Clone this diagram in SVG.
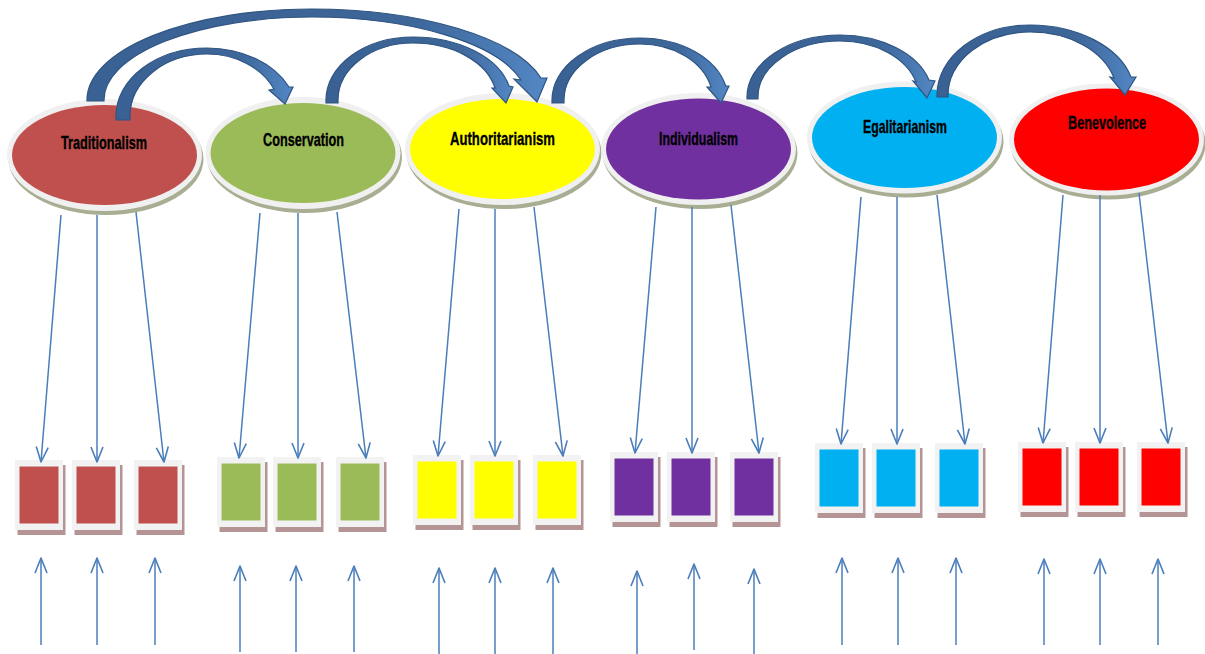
<svg xmlns="http://www.w3.org/2000/svg" width="1205" height="654" viewBox="0 0 1205 654">
<style>
.esh{fill:#a7ae92}
.ering{fill:#f0f0f0}
.lbl{font-family:"Liberation Sans",Arial,sans-serif;font-weight:bold;font-size:19px;fill:#000;stroke:#000;stroke-width:0.35;text-anchor:middle}
.bsh{fill:#b49494}
.bo{fill:#f2f2f2}
.ln{stroke:#4a7ebb;stroke-width:1.5;fill:none}
.ca{fill:url(#cg);stroke:#2f5482;stroke-width:1.2;stroke-linejoin:miter}
</style>
<defs>
<marker id="ah" markerUnits="userSpaceOnUse" viewBox="-17 -8 19 16" refX="0" refY="0" markerWidth="19" markerHeight="16" orient="auto" overflow="visible">
<path d="M-15,-6 L0,0 L-15,6" fill="none" stroke="#4a7ebb" stroke-width="1.6" stroke-linejoin="round"/>
</marker>
<linearGradient id="cg" x1="0" y1="0" x2="1" y2="0">
<stop offset="0" stop-color="#3a6193"/>
<stop offset="0.7" stop-color="#3d6699"/>
<stop offset="1" stop-color="#5387c4"/>
</linearGradient>
</defs>
<rect width="1205" height="654" fill="#fff"/>

<g id="n-traditionalism">
<ellipse class="esh" cx="106" cy="159" rx="97.5" ry="56"/>
<ellipse class="ering" cx="104.5" cy="155" rx="97.5" ry="56"/>
<ellipse cx="104.5" cy="155" rx="92.5" ry="50" fill="#c0504d"/>
<text class="lbl" x="104" y="149" textLength="86" lengthAdjust="spacingAndGlyphs">Traditionalism</text>
</g>
<g id="n-conservation">
<ellipse class="esh" cx="304.5" cy="157" rx="97.5" ry="56"/>
<ellipse class="ering" cx="303" cy="153" rx="97.5" ry="56"/>
<ellipse cx="303" cy="153" rx="92.5" ry="50" fill="#9bbb59"/>
<text class="lbl" x="303.5" y="146" textLength="81" lengthAdjust="spacingAndGlyphs">Conservation</text>
</g>
<g id="n-authoritarianism">
<ellipse class="esh" cx="504" cy="153" rx="97.5" ry="56"/>
<ellipse class="ering" cx="502.5" cy="149" rx="97.5" ry="56"/>
<ellipse cx="502.5" cy="149" rx="92.5" ry="50" fill="#ffff00"/>
<text class="lbl" x="502.5" y="145" textLength="105" lengthAdjust="spacingAndGlyphs">Authoritarianism</text>
</g>
<g id="n-individualism">
<ellipse class="esh" cx="700" cy="153" rx="97.5" ry="56"/>
<ellipse class="ering" cx="698.5" cy="149" rx="97.5" ry="56"/>
<ellipse cx="698.5" cy="149" rx="92.5" ry="50.5" fill="#7030a0"/>
<text class="lbl" x="698.5" y="145" textLength="79" lengthAdjust="spacingAndGlyphs">Individualism</text>
</g>
<g id="n-egalitarianism">
<ellipse class="esh" cx="906" cy="141.5" rx="97.5" ry="56"/>
<ellipse class="ering" cx="904.5" cy="137.5" rx="97.5" ry="56"/>
<ellipse cx="904.5" cy="137.5" rx="92.5" ry="50.5" fill="#00b0f0"/>
<text class="lbl" x="905" y="133" textLength="84" lengthAdjust="spacingAndGlyphs">Egalitarianism</text>
</g>
<g id="n-benevolence">
<ellipse class="esh" cx="1108" cy="143.5" rx="97.5" ry="56"/>
<ellipse class="ering" cx="1106.5" cy="139.5" rx="97.5" ry="56"/>
<ellipse cx="1106.5" cy="139.5" rx="92.5" ry="51" fill="#ff0000"/>
<text class="lbl" x="1107" y="129" textLength="78" lengthAdjust="spacingAndGlyphs">Benevolence</text>
</g>

<g id="b-trad-1"><rect class="bsh" x="17.5" y="465" width="48" height="70"/><rect class="bo" x="15" y="460" width="48" height="70"/><rect x="19.5" y="466.5" width="39" height="57" fill="#c0504d"/></g>
<g id="b-trad-2"><rect class="bsh" x="74.5" y="465" width="48" height="70"/><rect class="bo" x="72" y="460" width="48" height="70"/><rect x="76.5" y="466.5" width="39" height="57" fill="#c0504d"/></g>
<g id="b-trad-3"><rect class="bsh" x="136.5" y="465" width="48" height="70"/><rect class="bo" x="134" y="460" width="48" height="70"/><rect x="138.5" y="466.5" width="39" height="57" fill="#c0504d"/></g>

<g id="b-cons-1"><rect class="bsh" x="219.5" y="462" width="48" height="70"/><rect class="bo" x="217" y="457" width="48" height="70"/><rect x="221.5" y="463.5" width="39" height="57" fill="#9bbb59"/></g>
<g id="b-cons-2"><rect class="bsh" x="275.5" y="462" width="48" height="70"/><rect class="bo" x="273" y="457" width="48" height="70"/><rect x="277.5" y="463.5" width="39" height="57" fill="#9bbb59"/></g>
<g id="b-cons-3"><rect class="bsh" x="338.5" y="462" width="48" height="70"/><rect class="bo" x="336" y="457" width="48" height="70"/><rect x="340.5" y="463.5" width="39" height="57" fill="#9bbb59"/></g>

<g id="b-auth-1"><rect class="bsh" x="415.5" y="460" width="48" height="70"/><rect class="bo" x="413" y="455" width="48" height="70"/><rect x="417.5" y="461.5" width="39" height="57" fill="#ffff00"/></g>
<g id="b-auth-2"><rect class="bsh" x="472.5" y="460" width="48" height="70"/><rect class="bo" x="470" y="455" width="48" height="70"/><rect x="474.5" y="461.5" width="39" height="57" fill="#ffff00"/></g>
<g id="b-auth-3"><rect class="bsh" x="535.5" y="460" width="48" height="70"/><rect class="bo" x="533" y="455" width="48" height="70"/><rect x="537.5" y="461.5" width="39" height="57" fill="#ffff00"/></g>

<g id="b-ind-1"><rect class="bsh" x="612.5" y="457" width="48" height="70"/><rect class="bo" x="610" y="452" width="48" height="70"/><rect x="614.5" y="458.5" width="39" height="57" fill="#7030a0"/></g>
<g id="b-ind-2"><rect class="bsh" x="669.5" y="457" width="48" height="70"/><rect class="bo" x="667" y="452" width="48" height="70"/><rect x="671.5" y="458.5" width="39" height="57" fill="#7030a0"/></g>
<g id="b-ind-3"><rect class="bsh" x="732.5" y="457" width="48" height="70"/><rect class="bo" x="730" y="452" width="48" height="70"/><rect x="734.5" y="458.5" width="39" height="57" fill="#7030a0"/></g>

<g id="b-egal-1"><rect class="bsh" x="817.5" y="448" width="48" height="70"/><rect class="bo" x="815" y="443" width="48" height="70"/><rect x="819.5" y="449.5" width="39" height="57" fill="#00b0f0"/></g>
<g id="b-egal-2"><rect class="bsh" x="874.5" y="448" width="48" height="70"/><rect class="bo" x="872" y="443" width="48" height="70"/><rect x="876.5" y="449.5" width="39" height="57" fill="#00b0f0"/></g>
<g id="b-egal-3"><rect class="bsh" x="937.5" y="448" width="48" height="70"/><rect class="bo" x="935" y="443" width="48" height="70"/><rect x="939.5" y="449.5" width="39" height="57" fill="#00b0f0"/></g>

<g id="b-benev-1"><rect class="bsh" x="1020.5" y="447" width="48" height="70"/><rect class="bo" x="1018" y="442" width="48" height="70"/><rect x="1022.5" y="448.5" width="39" height="57" fill="#ff0000"/></g>
<g id="b-benev-2"><rect class="bsh" x="1077.5" y="447" width="48" height="70"/><rect class="bo" x="1075" y="442" width="48" height="70"/><rect x="1079.5" y="448.5" width="39" height="57" fill="#ff0000"/></g>
<g id="b-benev-3"><rect class="bsh" x="1139.5" y="447" width="48" height="70"/><rect class="bo" x="1137" y="442" width="48" height="70"/><rect x="1141.5" y="448.5" width="39" height="57" fill="#ff0000"/></g>

<g id="connectors">
<g class="ln" marker-end="url(#ah)">
<line x1="61" y1="215" x2="41" y2="462"/>
<line x1="97" y1="215" x2="97" y2="462"/>
<line x1="136" y1="212" x2="164" y2="462"/>
<line x1="260" y1="213" x2="239" y2="458"/>
<line x1="298" y1="213" x2="298" y2="458"/>
<line x1="337" y1="212" x2="366" y2="458"/>
<line x1="459" y1="209" x2="438" y2="456"/>
<line x1="495" y1="209" x2="495" y2="456"/>
<line x1="534" y1="207" x2="563" y2="456"/>
<line x1="656" y1="207" x2="635" y2="453"/>
<line x1="692" y1="207" x2="692" y2="453"/>
<line x1="731" y1="205" x2="759" y2="453"/>
<line x1="861" y1="197" x2="841" y2="444"/>
<line x1="897" y1="197" x2="897" y2="444"/>
<line x1="937" y1="195" x2="965" y2="444"/>
<line x1="1063" y1="195" x2="1043" y2="443"/>
<line x1="1100" y1="195" x2="1100" y2="443"/>
<line x1="1139" y1="193" x2="1168" y2="443"/>

<line x1="41" y1="645" x2="41" y2="558"/>
<line x1="97" y1="645" x2="97" y2="558"/>
<line x1="155" y1="645" x2="155" y2="558"/>
<line x1="240" y1="652" x2="240" y2="566"/>
<line x1="296" y1="652" x2="296" y2="566"/>
<line x1="354" y1="652" x2="354" y2="566"/>
<line x1="439" y1="654" x2="439" y2="568"/>
<line x1="495" y1="654" x2="495" y2="568"/>
<line x1="553" y1="654" x2="553" y2="568"/>
<line x1="637" y1="654" x2="637" y2="571"/>
<line x1="694" y1="650" x2="694" y2="564"/>
<line x1="754" y1="654" x2="754" y2="569"/>
<line x1="842" y1="645" x2="842" y2="558"/>
<line x1="898" y1="645" x2="898" y2="558"/>
<line x1="956" y1="645" x2="956" y2="558"/>
<line x1="1044" y1="645" x2="1044" y2="559"/>
<line x1="1100" y1="645" x2="1100" y2="559"/>
<line x1="1158" y1="645" x2="1158" y2="559"/>
</g>
<path class="ca" d="M87,101 L87,100 A225,91 0 0 1 312,9 A236,91 0 0 1 541,78 L547,78 L537,102 L514,79 L521,80 A215.5,83 0 0 0 312,17 A208,83 0 0 0 104,100 L104,101 Z"/>
<path class="ca" d="M116,120 L116,116 A91,68 0 0 1 207,48 A90.6,68 0 0 1 289,87 L293,87 L285,104 L269,90 L274,89 A74.4,62 0 0 0 207,54 A77,62 0 0 0 130,116 L130,120 Z"/>
<path class="ca" d="M326,103 L326,100 A87,63 0 0 1 413,37 A98.5,63 0 0 1 509,86 L513,87 L506,103 L492,88 L495,88 A83.8,57 0 0 0 413,43 A75,57 0 0 0 338,100 L338,103 Z"/>
<path class="ca" d="M552,103 L552,100 A88,62 0 0 1 640,38 A88,62 0 0 1 725.7,86 L729,86 L721,103 L707,87 L711,87 A73,56 0 0 0 640,44 A76,56 0 0 0 564,100 L564,103 Z"/>
<path class="ca" d="M747,99 L747,97 A93,62 0 0 1 840,35 A92.5,62 0 0 1 929,80 L935,81 L927,98 L913,81 L916,82 A79,56 0 0 0 840,41 A82,56 0 0 0 758,97 L758,99 Z"/>
<path class="ca" d="M937,97 L937,95 A93,70 0 0 1 1030,25 A105,70 0 0 1 1131,77 L1136,77 L1125,95 L1110,77 L1114,78 A87,63 0 0 0 1030,32 A82,63 0 0 0 948,95 L948,97 Z"/>
</g>
</svg>
